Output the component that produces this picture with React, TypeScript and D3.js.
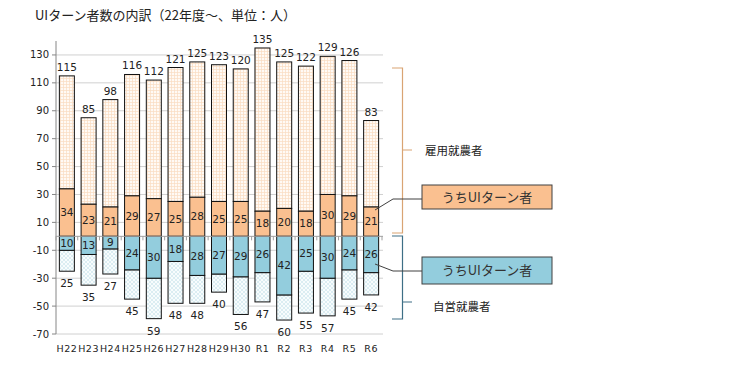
import React from "react";
import * as d3 from "d3";

const categories = ["H22","H23","H24","H25","H26","H27","H28","H29","H30","R1","R2","R3","R4","R5","R6"];
const employedTotal = [115,85,98,116,112,121,125,123,120,135,125,122,129,126,83];
const employedUI = [34,23,21,29,27,25,28,25,25,18,20,18,30,29,21];
const selfUI = [10,13,9,24,30,18,28,27,29,26,42,25,30,24,26];
const selfTotal = [25,35,27,45,59,48,48,40,56,47,60,55,57,45,42];
const yTicks = [130,110,90,70,50,30,10,-10,-30,-50,-70];

const W = 731, H = 376;
const LABEL_FONT = "'DejaVu Sans', Verdana, sans-serif";
const JP_FONT = "'Noto Sans CJK JP', sans-serif";

export default function App() {
  const x = d3.scaleBand<string>().domain(categories).range([56, 382]).paddingInner(0.31).paddingOuter(0.155);
  const y = d3.scaleLinear().domain([-70, 140]).range([334, 41]);
  const bw = x.bandwidth();
  const step = x.step();
  const y0 = y(0);

  return (
    <svg width={W} height={H} style={{ position: "absolute", left: 0, top: 0, background: "#fff" }}>
      <defs>
        <pattern id="gridPat" width="3" height="3" patternUnits="userSpaceOnUse">
          <rect width="3" height="3" fill="#fffaf5" />
          <path d="M0,0.5 H3 M0.5,0 V3" stroke="#f9dcc2" strokeWidth="0.7" />
        </pattern>
        <pattern id="diagPat" width="4" height="4" patternUnits="userSpaceOnUse">
          <rect width="4" height="4" fill="#f8fcfd" />
          <path d="M0,0 L4,4 M4,0 L0,4" stroke="#cfe6ee" strokeWidth="0.7" />
        </pattern>
      </defs>
      <text x={35} y={20} fontFamily={JP_FONT} fontSize={13} fill="#222">UIターン者数の内訳（22年度～、単位：人）</text>

      {/* gridlines */}
      {yTicks.map(t => (
        <line key={"g" + t} x1={56} x2={383} y1={y(t)} y2={y(t)} stroke="#d0d0d0" strokeWidth={1} />
      ))}
      {/* y axis */}
      <line x1={56} x2={56} y1={y(140)} y2={y(-70)} stroke="#868686" />
      {yTicks.map(t => (
        <g key={"t" + t}>
          <line x1={52} x2={56} y1={y(t)} y2={y(t)} stroke="#868686" />
          <text x={49} y={y(t)} dy="0.35em" textAnchor="end" fontFamily={LABEL_FONT} fontSize={10} fill="#222">{t}</text>
        </g>
      ))}

      {/* bars */}
      {categories.map((c, i) => {
        const bx = x(c)!;
        const cx = bx + bw / 2;
        return (
          <g key={c}>
            <rect x={bx} y={y(employedTotal[i])} width={bw} height={y(employedUI[i]) - y(employedTotal[i])} fill="url(#gridPat)" stroke="#111" strokeWidth={1} />
            <rect x={bx} y={y(employedUI[i])} width={bw} height={y0 - y(employedUI[i])} fill="#FAC090" stroke="#111" strokeWidth={1} />
            <rect x={bx} y={y(-selfUI[i])} width={bw} height={y(-selfTotal[i]) - y(-selfUI[i])} fill="url(#diagPat)" stroke="#111" strokeWidth={1} />
            <rect x={bx} y={y0} width={bw} height={y(-selfUI[i]) - y0} fill="#93CDDD" stroke="#111" strokeWidth={1} />
            <text x={cx} y={y(employedTotal[i]) - 5} textAnchor="middle" fontFamily={LABEL_FONT} fontSize={10.5} fill="#222">{employedTotal[i]}</text>
            <text x={cx} y={y(employedUI[i] / 2)} dy="0.35em" textAnchor="middle" fontFamily={LABEL_FONT} fontSize={10.5} fill="#222">{employedUI[i]}</text>
            <text x={cx} y={y(-selfUI[i] / 2)} dy="0.35em" textAnchor="middle" fontFamily={LABEL_FONT} fontSize={10.5} fill="#222">{selfUI[i]}</text>
            <text x={cx} y={y(-selfTotal[i]) + 16} textAnchor="middle" fontFamily={LABEL_FONT} fontSize={10.5} fill="#222">{selfTotal[i]}</text>
            <text x={cx} y={352} textAnchor="middle" fontFamily={LABEL_FONT} fontSize={9.5} letterSpacing={0.5} fill="#222">{c}</text>
          </g>
        );
      })}
      {/* zero axis */}
      <line x1={56} x2={383} y1={y0} y2={y0} stroke="#a0a0a0" />
      {d3.range(categories.length + 1).map(k => (
        <line key={"zt" + k} x1={56 + k * step} x2={56 + k * step} y1={y0} y2={y0 + 4} stroke="#a0a0a0" />
      ))}

      {/* braces */}
      <path d="M392,68 H402.5 V150 H412 M402.5,150 V233 H392" fill="none" stroke="#d9a473" strokeWidth={1.2} />
      <path d="M392,236 H402.5 V302 H412 M402.5,302 V319 H392" fill="none" stroke="#3e6f86" strokeWidth={1.2} />
      <text x={425} y={151} dy="0.35em" fontFamily={JP_FONT} fontSize={11.5} fill="#222">雇用就農者</text>
      <text x={433} y={307} dy="0.35em" fontFamily={JP_FONT} fontSize={11.5} fill="#222">自営就農者</text>

      {/* callouts */}
      <path d="M375,210 L393,199 H422" fill="none" stroke="#404040" strokeWidth={1} />
      <rect x={422} y={185} width={130} height={24} fill="#FAC090" stroke="#404040" />
      <text x={487} y={197} dy="0.35em" textAnchor="middle" fontFamily={JP_FONT} fontSize={13} fill="#333">うちUIターン者</text>
      <path d="M375,264 L393,271 H422" fill="none" stroke="#404040" strokeWidth={1} />
      <rect x={422} y={257} width={130} height={27} fill="#93CDDD" stroke="#404040" />
      <text x={487} y={270.5} dy="0.35em" textAnchor="middle" fontFamily={JP_FONT} fontSize={13} fill="#333">うちUIターン者</text>
    </svg>
  );
}
